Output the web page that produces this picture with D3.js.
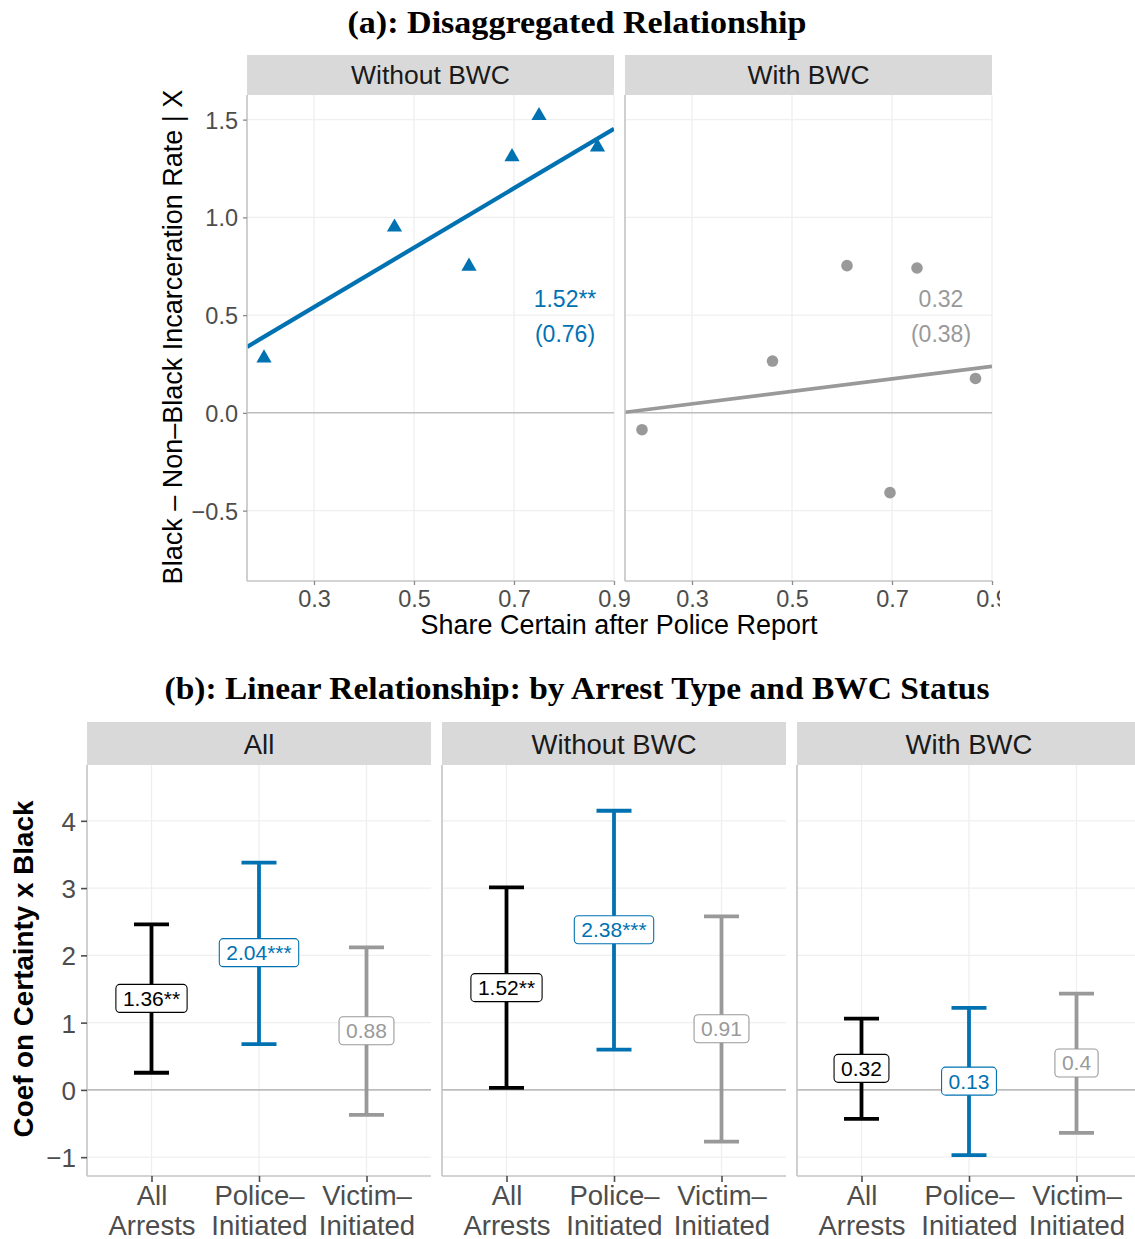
<!DOCTYPE html>
<html>
<head>
<meta charset="utf-8">
<script src="https://cdn.jsdelivr.net/npm/d3@7"></script>
<style>
  body { margin: 0; background: #fff; }
  text { font-family: "Liberation Sans", Arial, Helvetica, sans-serif; }
  .title { font-family: "Liberation Serif", "Times New Roman", serif; font-weight: bold; }
</style>
</head>
<body>
<script>
// ---- data, panel (a)
const facetsA = ["Without BWC", "With BWC"];
const shareCertain = [0.200, 0.461, 0.610, 0.696, 0.750, 0.867];
const gapWithout = [0.28, 0.95, 0.75, 1.31, 1.52, 1.36];
const gapWith = [-0.086, 0.265, 0.753, -0.408, 0.741, 0.176];
const fitIntercept = [0.085, -0.05];
const fitSlope = [1.52, 0.32];
const coefLabel = ["1.52**", "0.32"];
const seLabel = ["(0.76)", "(0.38)"];
const xTicksA = [0.3, 0.5, 0.7, 0.9];
const yTicksA = [1.5, 1.0, 0.5, 0.0, -0.5];

// ---- data, panel (b)
const facetsB = ["All", "Without BWC", "With BWC"];
const arrestTypes = ["All Arrests", "Police-Initiated", "Victim-Initiated"];
const arrestLines = [["All", "Arrests"], ["Police–", "Initiated"], ["Victim–", "Initiated"]];
const estimate = [[1.36, 2.04, 0.88], [1.52, 2.38, 0.91], [0.32, 0.13, 0.40]];
const ciLow = [[0.255, 0.68, -0.37], [0.03, 0.60, -0.77], [-0.43, -0.97, -0.64]];
const ciHigh = [[2.46, 3.38, 2.12], [3.01, 4.15, 2.58], [1.06, 1.22, 1.43]];
const estLabel = [["1.36**", "2.04***", "0.88"], ["1.52**", "2.38***", "0.91"], ["0.32", "0.13", "0.4"]];
const yTicksB = [-1, 0, 1, 2, 3, 4];

const blue = "#0072B2", gray = "#999999";
const typeColor = ["#000000", blue, gray];
const gridCol = "#efefef", axisCol = "#c4c4c4", zeroCol = "#bdbdbd", tickTxt = "#4d4d4d";

const W = 1135, H = 1239;
const svg = d3.select("body").append("svg")
    .attr("width", W).attr("height", H)
    .attr("viewBox", [0, 0, W, H]);
svg.append("rect").attr("width", W).attr("height", H).attr("fill", "#fff");

// squeeze/stretch a text to a measured width by changing its font size
function fitText(sel, target) {
  const w = sel.node().getComputedTextLength();
  const fs = parseFloat(sel.attr("font-size"));
  sel.attr("font-size", fs * target / w);
}

// ================= (a) =================
svg.append("defs").append("clipPath").attr("id", "clipA")
  .append("rect").attr("x", 0).attr("y", 0).attr("width", 1000).attr("height", 660);
const figA = svg.append("g").attr("clip-path", "url(#clipA)");

figA.append("text").attr("class", "title")
    .attr("x", 577).attr("y", 33).attr("text-anchor", "middle")
    .attr("font-size", 31).attr("textLength", 459).attr("lengthAdjust", "spacingAndGlyphs")
    .text("(a): Disaggregated Relationship");

const aTop = 95, aBottom = 581, aWidth = 367, aStripH = 40;
const aLeft = [247, 625];
const xA = d3.scaleLinear().domain([0.166, 0.9]).range([0, aWidth]);
const yA = d3.scaleLinear().domain([-0.86, 1.626]).range([aBottom, aTop]);
const gapsA = [gapWithout, gapWith];

facetsA.forEach((facet, i) => {
  const g = figA.append("g").attr("transform", `translate(${aLeft[i]},0)`);
  const clipId = "clipA" + i;
  g.append("clipPath").attr("id", clipId)
    .append("rect").attr("x", 0).attr("y", aTop).attr("width", aWidth).attr("height", aBottom - aTop);

  // grid
  g.selectAll(".gx").data(xTicksA).join("line")
      .attr("x1", d => xA(d)).attr("x2", d => xA(d))
      .attr("y1", aTop).attr("y2", aBottom)
      .attr("stroke", gridCol).attr("stroke-width", 1.3);
  g.selectAll(".gy").data(yTicksA.filter(d => d !== 0)).join("line")
      .attr("x1", 0).attr("x2", aWidth)
      .attr("y1", d => yA(d)).attr("y2", d => yA(d))
      .attr("stroke", gridCol).attr("stroke-width", 1.3);
  g.append("line").attr("x1", 0).attr("x2", aWidth)
      .attr("y1", yA(0)).attr("y2", yA(0))
      .attr("stroke", zeroCol).attr("stroke-width", 1.5);

  // strip
  g.append("rect").attr("x", 0).attr("y", aTop - aStripH).attr("width", aWidth).attr("height", aStripH)
      .attr("fill", "#d9d9d9");
  g.append("text").attr("x", aWidth / 2).attr("y", aTop - aStripH / 2 + 9)
      .attr("text-anchor", "middle").attr("font-size", 26.5).attr("fill", "#1a1a1a")
      .text(facet);

  // fit line
  const col = i === 0 ? blue : gray;
  const xd = xA.domain();
  g.append("line").attr("clip-path", `url(#${clipId})`)
      .attr("x1", xA(xd[0])).attr("x2", xA(xd[1]))
      .attr("y1", yA(fitIntercept[i] + fitSlope[i] * xd[0]))
      .attr("y2", yA(fitIntercept[i] + fitSlope[i] * xd[1]))
      .attr("stroke", col).attr("stroke-width", i === 0 ? 4.2 : 3.6);

  // points
  const pts = shareCertain.map((x, k) => ({ x, y: gapsA[i][k] }));
  if (i === 0) {
    g.selectAll(".pt").data(pts).join("path")
        .attr("transform", d => `translate(${xA(d.x)},${yA(d.y)})`)
        .attr("d", d3.symbol(d3.symbolTriangle, 100))
        .attr("fill", blue);
  } else {
    g.selectAll(".pt").data(pts).join("circle")
        .attr("cx", d => xA(d.x)).attr("cy", d => yA(d.y)).attr("r", 5.8)
        .attr("fill", gray);
  }

  // coefficient annotation
  const ax = i === 0 ? xA(0.802) : 941 - 625;
  g.append("text").attr("x", ax).attr("y", yA(0.585) + 8)
      .attr("text-anchor", "middle").attr("font-size", 23).attr("fill", col).text(coefLabel[i]);
  g.append("text").attr("x", ax).attr("y", yA(0.405) + 8)
      .attr("text-anchor", "middle").attr("font-size", 23).attr("fill", col).text(seLabel[i]);

  // axis lines
  g.append("line").attr("x1", 0).attr("x2", 0).attr("y1", aTop).attr("y2", aBottom)
      .attr("stroke", axisCol).attr("stroke-width", 1.6);
  g.append("line").attr("x1", 0).attr("x2", aWidth).attr("y1", aBottom).attr("y2", aBottom)
      .attr("stroke", axisCol).attr("stroke-width", 1.6);

  // x axis
  const xAxis = g.append("g").attr("transform", `translate(0,${aBottom})`)
      .call(d3.axisBottom(xA).tickValues(xTicksA).tickFormat(d3.format(".1f")).tickSize(4));
  xAxis.select(".domain").remove();
  xAxis.selectAll(".tick line").attr("stroke", "#8a8a8a").attr("stroke-width", 1.3);
  xAxis.selectAll(".tick text").attr("y", 25.5).attr("dy", null)
      .attr("font-size", 23.5).attr("fill", tickTxt).attr("font-family", null);

  if (i === 0) {
    const yAxis = g.append("g")
        .call(d3.axisLeft(yA).tickValues(yTicksA).tickFormat(d3.format(".1f")).tickSize(4));
    yAxis.select(".domain").remove();
    yAxis.selectAll(".tick line").attr("stroke", "#8a8a8a").attr("stroke-width", 1.3);
    yAxis.selectAll(".tick text").attr("x", -9).attr("dy", "0.36em")
        .attr("font-size", 23.5).attr("fill", tickTxt).attr("font-family", null);
  }
});

const yTitleA = figA.append("text")
    .attr("transform", "translate(182,337) rotate(-90)")
    .attr("text-anchor", "middle").attr("font-size", 26).attr("fill", "#000")
    .text("Black – Non–Black Incarceration Rate | X");
fitText(yTitleA, 495);

const xTitleA = figA.append("text")
    .attr("x", 619).attr("y", 634).attr("text-anchor", "middle")
    .attr("font-size", 24).attr("fill", "#000")
    .text("Share Certain after Police Report");
fitText(xTitleA, 397);

// ================= (b) =================
svg.append("text").attr("class", "title")
    .attr("x", 577).attr("y", 699).attr("text-anchor", "middle")
    .attr("font-size", 31).attr("textLength", 825).attr("lengthAdjust", "spacingAndGlyphs")
    .text("(b): Linear Relationship: by Arrest Type and BWC Status");

const bTop = 765, bBottom = 1176, bWidth = 344, bStripH = 43;
const bLeft = [87, 442, 797];
const xB = d3.scalePoint().domain(arrestTypes).range([0, bWidth]).padding(0.6);
const yB = d3.scaleLinear().domain([-1.28, 4.83]).range([bBottom, bTop]);
const capW = 35;

facetsB.forEach((facet, i) => {
  const g = svg.append("g").attr("transform", `translate(${bLeft[i]},0)`);

  g.selectAll(".gx").data(arrestTypes).join("line")
      .attr("x1", d => xB(d)).attr("x2", d => xB(d))
      .attr("y1", bTop).attr("y2", bBottom)
      .attr("stroke", gridCol).attr("stroke-width", 1.3);
  g.selectAll(".gy").data(yTicksB.filter(d => d !== 0)).join("line")
      .attr("x1", 0).attr("x2", bWidth)
      .attr("y1", d => yB(d)).attr("y2", d => yB(d))
      .attr("stroke", gridCol).attr("stroke-width", 1.3);
  g.append("line").attr("x1", 0).attr("x2", bWidth)
      .attr("y1", yB(0)).attr("y2", yB(0))
      .attr("stroke", zeroCol).attr("stroke-width", 1.6);

  g.append("rect").attr("x", 0).attr("y", bTop - bStripH).attr("width", bWidth).attr("height", bStripH)
      .attr("fill", "#d9d9d9");
  g.append("text").attr("x", bWidth / 2).attr("y", bTop - bStripH / 2 + 10)
      .attr("text-anchor", "middle").attr("font-size", 27.5).attr("fill", "#1a1a1a")
      .text(facet);

  const rows = arrestTypes.map((t, k) => ({
    t, lo: ciLow[i][k], hi: ciHigh[i][k], est: estimate[i][k], lab: estLabel[i][k], col: typeColor[k]
  }));

  const bars = g.selectAll(".bar").data(rows).join("g");
  bars.append("line")
      .attr("x1", d => xB(d.t)).attr("x2", d => xB(d.t))
      .attr("y1", d => yB(d.lo)).attr("y2", d => yB(d.hi))
      .attr("stroke", d => d.col).attr("stroke-width", 3.8);
  bars.append("line")
      .attr("x1", d => xB(d.t) - capW / 2).attr("x2", d => xB(d.t) + capW / 2)
      .attr("y1", d => yB(d.hi)).attr("y2", d => yB(d.hi))
      .attr("stroke", d => d.col).attr("stroke-width", 3.8);
  bars.append("line")
      .attr("x1", d => xB(d.t) - capW / 2).attr("x2", d => xB(d.t) + capW / 2)
      .attr("y1", d => yB(d.lo)).attr("y2", d => yB(d.lo))
      .attr("stroke", d => d.col).attr("stroke-width", 3.8);

  // labels in rounded boxes
  bars.each(function (d) {
    const b = d3.select(this);
    const box = b.append("rect");
    const txt = b.append("text")
        .attr("x", xB(d.t)).attr("y", yB(d.est) + 7.5)
        .attr("text-anchor", "middle").attr("font-size", 21).attr("fill", d.col)
        .text(d.lab);
    const w = txt.node().getComputedTextLength();
    box.attr("x", xB(d.t) - w / 2 - 7).attr("y", yB(d.est) - 14)
        .attr("width", w + 14).attr("height", 28).attr("rx", 4)
        .attr("fill", "#fff").attr("stroke", d.col).attr("stroke-width", 1.1);
  });

  g.append("line").attr("x1", 0).attr("x2", 0).attr("y1", bTop).attr("y2", bBottom)
      .attr("stroke", axisCol).attr("stroke-width", 1.6);
  g.append("line").attr("x1", 0).attr("x2", bWidth).attr("y1", bBottom).attr("y2", bBottom)
      .attr("stroke", axisCol).attr("stroke-width", 1.6);

  const xAxis = g.append("g").attr("transform", `translate(0,${bBottom})`)
      .call(d3.axisBottom(xB).tickSize(6).tickFormat(""));
  xAxis.select(".domain").remove();
  xAxis.selectAll(".tick line").attr("stroke", "#4d4d4d").attr("stroke-width", 1.6);
  xAxis.selectAll(".tick").each(function (d, k) {
    const t = d3.select(this).select("text")
        .attr("y", 0).attr("dy", null).attr("font-size", 27.5).attr("fill", tickTxt)
        .attr("font-family", null).text(null);
    arrestLines[k].forEach((line, j) => {
      t.append("tspan").attr("x", 0).attr("y", 29 + j * 30).text(line);
    });
  });

  if (i === 0) {
    const yAxis = g.append("g")
        .call(d3.axisLeft(yB).tickValues(yTicksB).tickFormat(d3.format("d")).tickSize(6));
    yAxis.select(".domain").remove();
    yAxis.selectAll(".tick line").attr("stroke", "#4d4d4d").attr("stroke-width", 1.6);
    yAxis.selectAll(".tick text").attr("x", -11).attr("dy", "0.36em")
        .attr("font-size", 26).attr("fill", tickTxt).attr("font-family", null);
  }
});

const yTitleB = svg.append("text")
    .attr("transform", "translate(33,969) rotate(-90)")
    .attr("text-anchor", "middle").attr("font-size", 26).attr("font-weight", "bold").attr("fill", "#000")
    .text("Coef on Certainty x Black");
fitText(yTitleB, 337);
</script>
</body>
</html>
